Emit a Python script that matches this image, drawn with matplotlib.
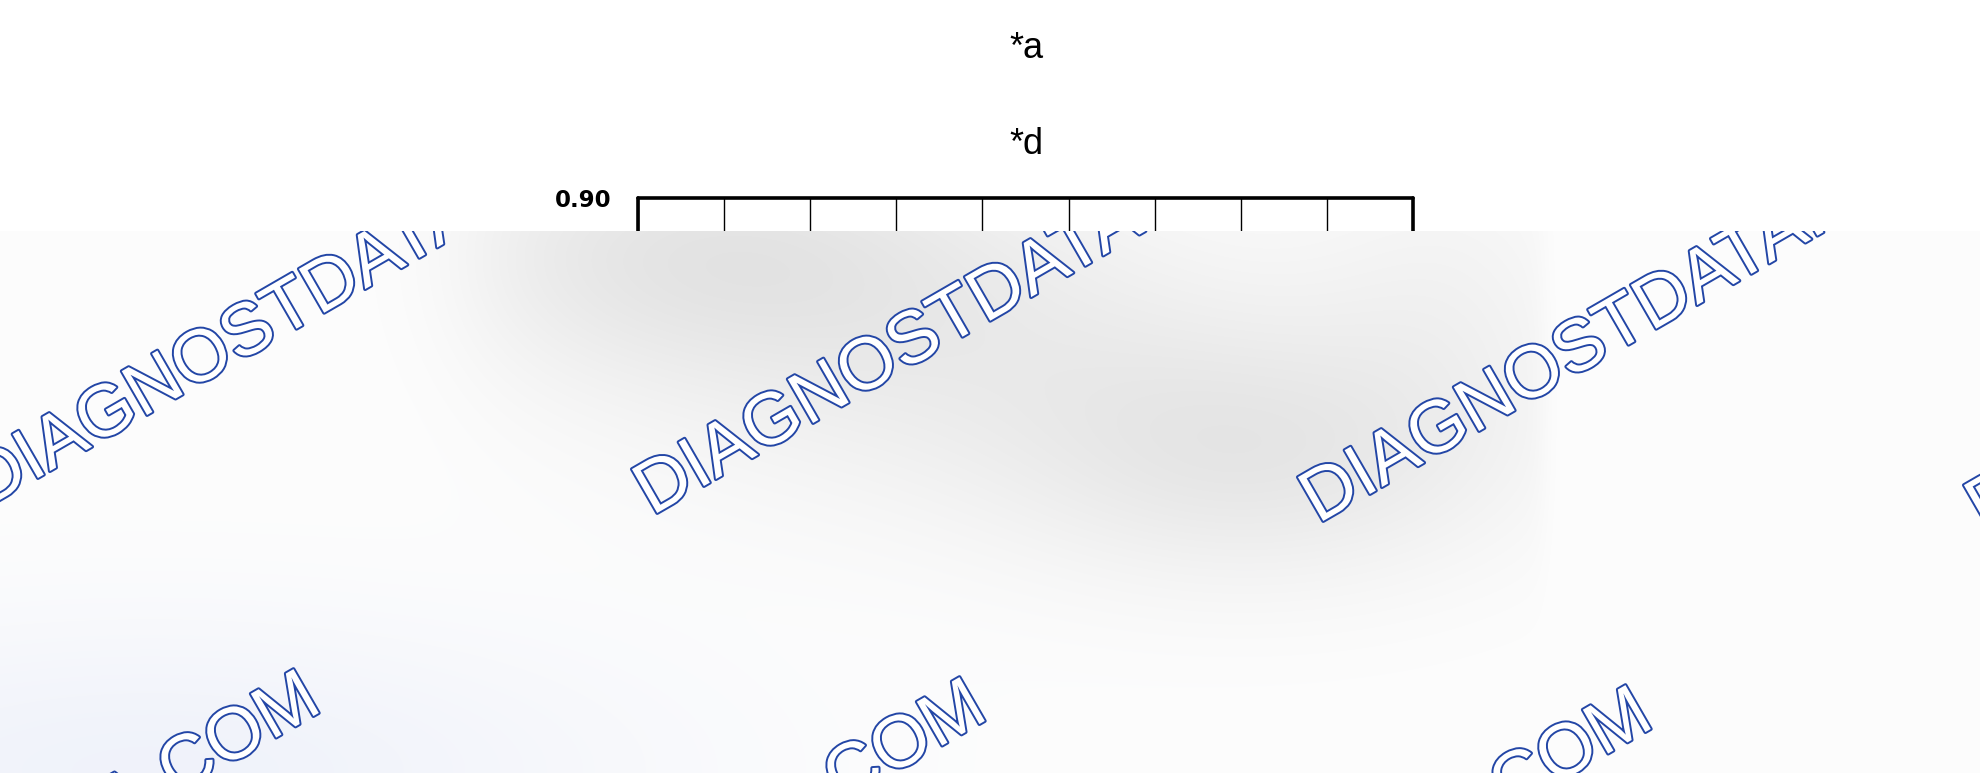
import numpy as np
import matplotlib
matplotlib.use("Agg")
import matplotlib.pyplot as plt
import matplotlib.patheffects as pe

# figure size in pixels (dpi 100)
W, H = 1980, 773

# chart content (only the top of the chart is visible)
titles = ["*a", "*d"]
x_cells = [0, 1, 2, 3, 4, 5, 6, 7, 8, 9]
y_ticks = [0.50, 0.60, 0.70, 0.80, 0.90]

# watermark text and its tile anchors (pixel coords, baseline-left)
wm_text = "DIAGNOSTDATA.COM"
wm_row1 = [(-14, 508), (652, 516), (1318, 524), (1984, 532)]
wm_row2 = [(-336, 1091), (330, 1099), (996, 1107), (1662, 1115)]
wm_blue = "#2346a6"

plt.rcParams['font.family'] = ['Liberation Sans', 'DejaVu Sans']

fig = plt.figure(figsize=(W / 100, H / 100), dpi=100)
fig.patch.set_facecolor("white")


def fx(px):
    return px / W


def fy(py):
    return 1 - py / H


# --- the chart -------------------------------------------------------
ax = fig.add_axes([fx(638), fy(700), fx(1413) - fx(638), fy(198) - fy(700)])
ax.set_xlim(x_cells[0], x_cells[-1])
ax.set_ylim(y_ticks[0], y_ticks[-1])
ax.set_xticks(x_cells)
ax.set_xticklabels([])
ax.set_yticks(y_ticks)
ax.set_yticklabels([f"{v:.2f}" for v in y_ticks], fontweight="bold",
                   fontsize=16.5, family="DejaVu Sans")
ax.tick_params(axis="both", length=0)
ax.tick_params(axis="y", pad=19)
ax.grid(axis="x", color="black", linewidth=1.0)
for s in ax.spines.values():
    s.set_linewidth(2.6)
    s.set_capstyle("round")

fig.text(fx(1026), fy(58), titles[0], ha="center", va="baseline", fontsize=26)
fig.text(fx(1026), fy(154), titles[1], ha="center", va="baseline", fontsize=26)

# --- watermark overlay covering the lower part ------------------------
top = 231
ov = fig.add_axes([0, 0, 1, fy(top)], zorder=5)
ov.set_xlim(0, W)
ov.set_ylim(H, top)
ov.axis("off")

yy, xx = np.mgrid[top:H, 0:W].astype(float)
gray = np.zeros_like(xx)
for cx, cy, sx, sy, d in [(700, 250, 220, 90, 0.085),
                          (1260, 460, 170, 90, 0.07),
                          (980, 370, 260, 110, 0.05),
                          (1450, 300, 100, 120, 0.03)]:
    gray += d * np.exp(-((xx - cx) ** 2 / (2 * sx ** 2) + (yy - cy) ** 2 / (2 * sy ** 2)))
mask = 1 / (1 + np.exp(-(xx - 450) / 40)) * 1 / (1 + np.exp(-(1545 - xx) / 6))
gray = np.clip(gray * mask, 0, 0.11)
tint = 0.05 * np.exp(-((xx - 150) ** 2 / (2 * 360 ** 2) + (yy - 770) ** 2 / (2 * 110 ** 2)))
base = 0.992
img = np.dstack([base - gray - tint, base - gray - tint * 0.8, base - gray - tint * 0.2])
ov.imshow(np.clip(img, 0, 1), extent=[0, W, H, top], aspect="auto", interpolation="bilinear")

for (x0, y0) in wm_row1 + wm_row2:
    ov.text(x0, y0, wm_text, rotation=30, rotation_mode="anchor", ha="left", va="baseline",
            fontsize=53, color="white", clip_on=True,
            path_effects=[pe.withStroke(linewidth=2.8, foreground=wm_blue)])

fig.savefig("out.png", dpi=100)
